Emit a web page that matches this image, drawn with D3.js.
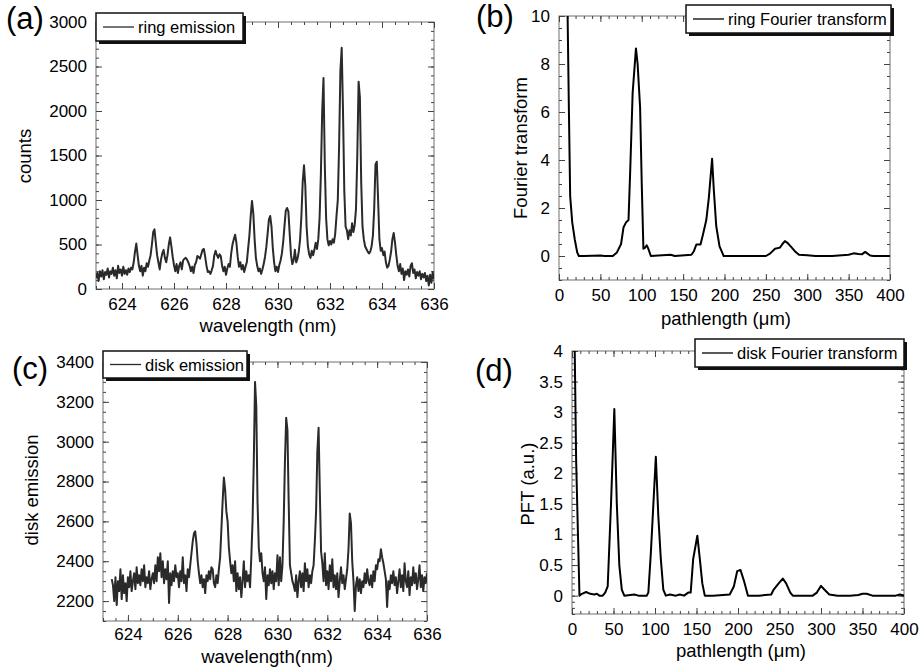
<!DOCTYPE html>
<html>
<head>
<meta charset="utf-8">
<script src="https://cdn.jsdelivr.net/npm/d3@7"></script>
<style>
  body { margin: 0; background: #fff; }
  svg { display: block; }
</style>
</head>
<body>
<script>
// spectra are sampled on a uniform wavelength grid (nm)
var wlStep = 0.05;
var ringStart = 623.0;
var diskStart = 623.35;

// (a) ring emission counts, one line per nm
var ringCounts = [
  120,180,90,200,140,210,110,190,160,230,130,200,170,240,150,210,120,260,180,220,   // 623
  150,250,170,210,160,230,190,240,220,300,420,510,380,260,200,260,150,240,200,290,  // 624
  250,320,380,500,640,670,520,380,300,220,330,400,440,350,300,380,500,580,480,360,  // 625
  270,200,280,180,260,300,220,320,340,350,330,300,260,200,250,180,270,300,370,360,  // 626
  340,390,440,450,360,260,190,200,170,210,260,380,430,380,350,390,370,260,200,250,  // 627
  160,230,280,250,400,500,560,610,520,360,250,300,220,270,190,250,300,450,600,820,  // 628
  990,850,560,350,260,200,230,170,220,280,360,470,620,780,820,700,460,300,200,250,  // 629
  190,270,320,400,530,710,880,910,870,620,380,280,320,440,300,340,420,560,820,1200, // 630
  1390,1160,700,480,390,350,430,380,440,520,450,560,800,1300,2000,2370,1400,800,560,490, // 631
  540,500,560,520,620,820,1000,1600,2450,2710,2000,1100,700,660,560,660,600,740,640,720, // 632
  900,1500,2330,2150,1200,700,560,480,450,420,400,420,480,600,900,1400,1430,1000,560,430, // 633
  460,380,420,300,240,260,330,420,560,630,520,380,260,200,280,170,230,100,200,160,  // 634
  220,140,260,290,180,220,120,190,150,200,110,170,130,180,90,150,40,160,70,190,     // 635
  110                                                                              // 636
];

// (c) disk emission, starts at 623.35 nm
var diskCounts = [
  2310,2280,2200,2320,2180,2300,2250,2360,2210,2330,2240,2290,2200,                        // 623.35-623.95
  2320,2270,2350,2250,2300,2340,2260,2370,2290,2330,2280,2360,2300,2380,2270,2320,2290,2350,2260,2310, // 624
  2340,2290,2380,2300,2420,2350,2440,2320,2400,2290,2360,2310,2400,2190,2340,2280,2350,2300,2380,2320, // 625
  2340,2270,2350,2300,2420,2290,2330,2250,2360,2320,2380,2440,2500,2540,2550,2490,2400,2340,2290,2330, // 626
  2270,2310,2240,2330,2300,2350,2310,2370,2360,2290,2270,2330,2290,2360,2420,2560,2700,2820,2760,2650, // 627
  2600,2470,2400,2340,2380,2300,2400,2250,2340,2260,2320,2220,2300,2400,2270,2350,2300,2330,2270,2420, // 628
  2600,2900,3300,3180,2700,2470,2400,2440,2340,2300,2370,2210,2330,2280,2360,2290,2350,2260,2340,2300, // 629
  2430,2280,2420,2300,2380,2600,2900,3120,3060,2700,2380,2340,2300,2280,2250,2330,2220,2300,2350,2270, // 630
  2340,2250,2390,2300,2360,2270,2330,2290,2350,2380,2500,2650,2950,3070,2750,2450,2390,2300,2440,2280, // 631
  2350,2260,2380,2300,2410,2270,2330,2260,2340,2220,2300,2370,2290,2330,2260,2310,2360,2460,2640,2590, // 632
  2400,2300,2150,2280,2320,2250,2310,2240,2300,2270,2340,2290,2360,2300,2280,2330,2270,2350,2300,2380, // 633
  2360,2410,2400,2460,2420,2390,2350,2310,2170,2300,2260,2330,2290,2350,2280,2320,2240,2300,2360,2270, // 634
  2330,2250,2390,2300,2270,2350,2230,2320,2280,2370,2290,2340,2260,2310,2380,2270,2330,2250,2320,2290, // 635
  2340                                                                                                  // 636
];

// (b) ring Fourier transform
var ringPath = [10,12,13.5,16,19,22,24,30,40,50,55,65,70,75,78,81,84,86,89,93,95,98,100,102,104,106,108,111,120,135,140,160,163,166,171,174,178,181,185,187,190,194,199,220,250,255,261,267,270,273,276,280,285,290,300,310,330,350,356,362,366,370,376,380,400];
var ringFT   = [11,6,2.5,1.4,0.7,0.15,0,0,0.01,0.02,0,0,0.15,0.5,1.2,1.4,1.5,3.5,6.8,8.65,8.0,6.2,3.0,0.3,0.35,0.45,0.3,0,0.02,0.05,0,0.05,0.2,0.48,0.48,0.9,1.5,2.4,4.05,2.8,1.25,0.4,0,0,0,0.1,0.3,0.35,0.5,0.62,0.55,0.4,0.2,0.05,0.03,0,0,0.05,0.11,0.08,0.07,0.17,0.02,0,0];

// (d) disk Fourier transform
var diskPath = [3,5,9,12,17,22,27,30,33,37,40,43,47,51,54,57,60,63,75,80,90,92,95,101,104,107,110,113,118,125,130,135,140,143,146,151,154,157,160,170,190,195,199,203,207,212,225,240,243,249,254,258,263,266,290,295,300,304,310,320,335,345,350,355,362,390,395,400];
var diskFT   = [4.3,2.2,0,0.03,0.06,0.03,0.02,0.03,0,0,0.05,0.15,1.5,3.05,1.5,0.5,0.1,0,0.02,0,0,0.05,0.7,2.27,1.3,0.6,0.1,0,0.02,0,0.02,0,0.05,0.05,0.6,0.98,0.6,0.2,0,0,0.02,0.15,0.4,0.42,0.25,0,0,0.02,0.1,0.2,0.28,0.2,0.05,0,0,0.05,0.16,0.1,0.02,0,0,0.01,0.03,0.03,0,0,0.02,0];

// tick values
var wlMajor = [624, 626, 628, 630, 632, 634, 636];
var wlMinor = d3.range(623, 636.01, 0.5);
var countsMajor = [0, 500, 1000, 1500, 2000, 2500, 3000];
var countsMinor = d3.range(0, 3001, 100);
var diskMajor = [2200, 2400, 2600, 2800, 3000, 3200, 3400];
var diskMinor = d3.range(2100, 3401, 50);
var pathMajor = [0, 50, 100, 150, 200, 250, 300, 350, 400];
var pathMinor = d3.range(0, 401, 10);
var ftMajor = [0, 2, 4, 6, 8, 10];
var ftMinor = d3.range(-1, 10.01, 0.5);
var pftMajor = [0, 0.5, 1, 1.5, 2, 2.5, 3, 3.5, 4];
var pftMinor = d3.range(-0.3, 4.01, 0.1);

var FONT = "'Liberation Sans', Arial, Helvetica, sans-serif";

var svg = d3.select("body").append("svg")
  .attr("width", 921)
  .attr("height", 669);

function drawPanel(o) {
  var x = d3.scaleLinear().domain(o.xDomain).range([o.left, o.right]);
  var y = d3.scaleLinear().domain(o.yDomain).range([o.bottom, o.top]);
  var g = svg.append("g");

  g.append("clipPath").attr("id", "clip-" + o.id)
    .append("rect")
    .attr("x", o.left).attr("y", o.top)
    .attr("width", o.right - o.left).attr("height", o.bottom - o.top);

  // frame
  g.append("rect")
    .attr("x", o.left).attr("y", o.top)
    .attr("width", o.right - o.left).attr("height", o.bottom - o.top)
    .attr("fill", "none").attr("stroke", "#888").attr("stroke-width", 1.2);

  function ticks(axisFn, scale, pos, values, size, fmt, pad) {
    var a = axisFn(scale).tickValues(values).tickSize(-size).tickSizeOuter(0).tickPadding(pad || 9);
    a.tickFormat(fmt ? fmt : "");
    var s = g.append("g").attr("transform", pos).call(a)
      .attr("font-family", FONT).attr("font-size", 17);
    s.select(".domain").remove();
    s.selectAll("line").attr("stroke", "#444").attr("stroke-width", 1);
    s.selectAll("text").attr("fill", "#000");
  }

  var bt = "translate(0," + o.bottom + ")", tp = "translate(0," + o.top + ")";
  var lf = "translate(" + o.left + ",0)", rt = "translate(" + o.right + ",0)";
  ticks(d3.axisBottom, x, bt, o.xMinor, 3, null);
  ticks(d3.axisTop, x, tp, o.xMinor, 3, null);
  ticks(d3.axisBottom, x, bt, o.xMajor, 6, o.xFmt, o.xPad);
  ticks(d3.axisTop, x, tp, o.xMajor, 6, null);
  ticks(d3.axisLeft, y, lf, o.yMinor, 3, null);
  ticks(d3.axisRight, y, rt, o.yMinor, 3, null);
  ticks(d3.axisLeft, y, lf, o.yMajor, 6, o.yFmt);
  ticks(d3.axisRight, y, rt, o.yMajor, 6, null);

  // data line
  var line = d3.line().x(function (d) { return x(d[0]); }).y(function (d) { return y(d[1]); });
  g.append("path")
    .datum(o.data)
    .attr("clip-path", "url(#clip-" + o.id + ")")
    .attr("d", line)
    .attr("fill", "none")
    .attr("stroke", o.color)
    .attr("stroke-width", o.width)
    .attr("stroke-linejoin", "round");

  // axis titles
  g.append("text")
    .attr("x", o.xTitle[0]).attr("y", o.xTitle[1])
    .attr("text-anchor", "middle")
    .attr("font-family", FONT).attr("font-size", 18.5).attr("fill", "#000")
    .text(o.xLabel);
  g.append("text")
    .attr("transform", "translate(" + o.yTitle[0] + "," + o.yTitle[1] + ") rotate(-90)")
    .attr("text-anchor", "middle").attr("dominant-baseline", "central")
    .attr("font-family", FONT).attr("font-size", 18.5).attr("fill", "#000")
    .text(o.yLabel);

  // panel letter
  g.append("text")
    .attr("x", o.tag[0]).attr("y", o.tag[1])
    .attr("font-family", FONT).attr("font-size", 31).attr("fill", "#000")
    .text(o.tagText);

  // legend with drop shadow
  var L = o.legend;
  g.append("rect").attr("x", L.x0 + 3).attr("y", L.y0 + 3)
    .attr("width", L.x1 - L.x0).attr("height", L.y1 - L.y0).attr("fill", "#111");
  g.append("rect").attr("x", L.x0).attr("y", L.y0)
    .attr("width", L.x1 - L.x0).attr("height", L.y1 - L.y0)
    .attr("fill", "#fff").attr("stroke", "#111").attr("stroke-width", 1.5);
  var ly = (L.y0 + L.y1) / 2;
  g.append("line").attr("x1", L.x0 + 7).attr("x2", L.x0 + 38)
    .attr("y1", ly).attr("y2", ly)
    .attr("stroke", o.color).attr("stroke-width", 1.3);
  g.append("text")
    .attr("x", L.x0 + 42).attr("y", ly)
    .attr("dominant-baseline", "central")
    .attr("font-family", FONT).attr("font-size", 16.5).attr("fill", "#000")
    .text(L.text);
}

function spectrum(start, vals) {
  return vals.map(function (v, i) { return [start + i * wlStep, v]; });
}
function pairs(xs, ys) {
  return xs.map(function (v, i) { return [v, ys[i]]; });
}

var intFmt = d3.format("d");
var gFmt = d3.format("~g");

drawPanel({
  id: "a", left: 96, right: 434, top: 22, bottom: 289,
  xDomain: [623, 636], yDomain: [0, 3000],
  xMajor: wlMajor, xMinor: wlMinor, yMajor: countsMajor, yMinor: countsMinor,
  xFmt: intFmt, yFmt: intFmt,
  data: spectrum(ringStart, ringCounts), color: "#2a2a2a", width: 2,
  xLabel: "wavelength (nm)", xTitle: [268, 332],
  yLabel: "counts", yTitle: [24, 156],
  tagText: "(a)", tag: [6, 29],
  legend: { x0: 96, x1: 243, y0: 13, y1: 41, text: "ring emission" }
});

drawPanel({
  id: "b", left: 559, right: 890, top: 16, bottom: 280,
  xDomain: [0, 400], yDomain: [-1, 10],
  xMajor: pathMajor, xMinor: pathMinor, yMajor: ftMajor, yMinor: ftMinor,
  xFmt: intFmt, yFmt: intFmt,
  data: pairs(ringPath, ringFT), color: "#000", width: 2,
  xLabel: "pathlength (\u03bcm)", xTitle: [726, 325],
  yLabel: "Fourier transform", yTitle: [520, 148],
  tagText: "(b)", tag: [476, 27],
  legend: { x0: 686, x1: 891, y0: 5, y1: 33, text: "ring Fourier transform" }
});

drawPanel({
  id: "c", left: 103, right: 427, top: 362, bottom: 621,
  xDomain: [623, 636], yDomain: [2100, 3400],
  xMajor: wlMajor, xMinor: wlMinor, yMajor: diskMajor, yMinor: diskMinor,
  xFmt: intFmt, yFmt: intFmt, xPad: 7,
  data: spectrum(diskStart, diskCounts), color: "#2a2a2a", width: 2,
  xLabel: "wavelength(nm)", xTitle: [267, 663],
  yLabel: "disk emission", yTitle: [31, 490],
  tagText: "(c)", tag: [12, 379],
  legend: { x0: 103, x1: 247, y0: 351, y1: 378, text: "disk emission" }
});

drawPanel({
  id: "d", left: 572, right: 904, top: 351, bottom: 614,
  xDomain: [0, 400], yDomain: [-0.3, 4],
  xMajor: pathMajor, xMinor: pathMinor, yMajor: pftMajor, yMinor: pftMinor,
  xFmt: intFmt, yFmt: gFmt,
  data: pairs(diskPath, diskFT), color: "#000", width: 2,
  xLabel: "pathlength (\u03bcm)", xTitle: [741, 657],
  yLabel: "PFT (a.u.)", yTitle: [527, 484],
  tagText: "(d)", tag: [475, 381],
  legend: { x0: 695, x1: 904, y0: 339, y1: 367, text: "disk Fourier transform" }
});
</script>
</body>
</html>
